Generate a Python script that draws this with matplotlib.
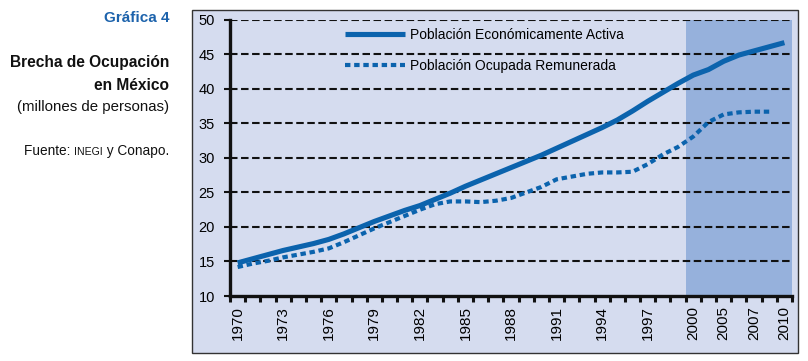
import matplotlib
matplotlib.use("Agg")
import matplotlib.pyplot as plt
from matplotlib.patches import Rectangle
import numpy as np

plt.rcParams['font.family'] = ['Liberation Sans', 'DejaVu Sans']

# --- DATOS (millones de personas) ---
etiquetas_x = ['1970', '', '', '1973', '', '', '1976', '', '', '1979', '', '',
               '1982', '', '', '1985', '', '', '1988', '', '', '1991', '', '',
               '1994', '', '', '1997', '', '', '2000', '', '2005', '', '2007',
               '', '2010']

pea = [14.8, 15.4, 16.0, 16.6, 17.1, 17.6, 18.2, 19.0, 19.9, 20.8, 21.6,
       22.4, 23.1, 24.0, 24.9, 25.9, 26.8, 27.7, 28.6, 29.5, 30.4, 31.4,
       32.4, 33.4, 34.4, 35.5, 36.8, 38.2, 39.5, 40.8, 42.0, 42.8, 44.0,
       44.9, 45.5, 46.1, 46.7]

ocupada_rem = [14.2, 14.7, 15.1, 15.6, 16.0, 16.4, 16.9, 17.8, 18.8, 19.8,
               20.7, 21.6, 22.5, 23.3, 23.7, 23.7, 23.6, 23.8, 24.2, 25.0,
               25.8, 26.9, 27.3, 27.7, 27.9, 27.9, 28.0, 29.1, 30.5, 31.6,
               33.1, 35.2, 36.3, 36.6, 36.7, 36.7]

nombres = ['Población Económicamente Activa', 'Población Ocupada Remunerada']
inicio_sombra = '2000'

azul = '#0b63ad'
fondo = '#d5dcef'
sombra = '#96b1dc'
negro = '#111111'

fig = plt.figure(figsize=(8.08, 3.61), dpi=100)

# marco exterior del gráfico
marco = Rectangle((0.2376, 0.022), 0.750, 0.950, transform=fig.transFigure,
                  facecolor=fondo, edgecolor='#333333', linewidth=1.0, zorder=-5)
fig.patches.append(marco)

ax = fig.add_axes([0.2847, 0.180, 0.6955, 0.765])
ax.set_facecolor('none')

x = np.arange(len(etiquetas_x))
k0 = etiquetas_x.index(inicio_sombra)
ax.axvspan(k0 - 0.5, len(etiquetas_x) - 0.5, color=sombra, lw=0, zorder=0)

# cuadrícula horizontal punteada
for v in range(15, 51, 5):
    ax.axhline(v, color=negro, lw=1.5, linestyle=(0, (3.6, 1.7)), zorder=1)

ax.plot(x, pea, color=azul, lw=3.7, solid_capstyle='butt', zorder=3,
        label=nombres[0])
ax.plot(x[:len(ocupada_rem)], ocupada_rem, color=azul, lw=3.0,
        linestyle=(0, (1.3, 0.9)), dash_capstyle='butt', zorder=3,
        label=nombres[1])

ax.set_xlim(-0.5, len(etiquetas_x) - 0.5)
ax.set_ylim(10, 50)
ax.set_yticks(range(10, 51, 5))
ax.set_xticks(x)
ax.set_xticklabels(etiquetas_x, rotation=90, fontsize=11)
ax.set_xticks(np.arange(-0.5, len(etiquetas_x)), minor=True)
ax.tick_params(axis='x', which='major', length=0, pad=7)
ax.tick_params(axis='x', which='minor', length=4, width=2.2, direction='out',
               color=negro)
ax.tick_params(axis='y', length=4, width=1.5, direction='out', pad=7,
               labelsize=10.5, color=negro)

for lado in ['top', 'right']:
    ax.spines[lado].set_visible(False)
for lado in ['left', 'bottom']:
    ax.spines[lado].set_linewidth(2.4)
    ax.spines[lado].set_color(negro)
    ax.spines[lado].set_zorder(4)

ax.legend(loc='upper left', bbox_to_anchor=(345 / 808, 1 - 28 / 361),
          bbox_transform=fig.transFigure, frameon=False, fontsize=10,
          handlelength=4.3, handletextpad=0.4, labelspacing=1.25,
          borderpad=0, borderaxespad=0)

# textos a la izquierda
xt = 169 / 808
fig.text(xt, 1 - 18 / 361, 'Gráfica 4', ha='right', va='center',
         fontsize=11, fontweight='bold', color='#1d63ac')
fig.text(xt, 1 - 63 / 361, 'Brecha de Ocupación', ha='right', va='center',
         fontsize=11.2, fontweight='bold', color=negro)
fig.text(xt, 1 - 85 / 361, 'en México', ha='right', va='center',
         fontsize=11.2, fontweight='bold', color=negro)
fig.text(xt, 1 - 107 / 361, '(millones de personas)', ha='right', va='center',
         fontsize=10.8, color=negro)

# fuente: "INEGI" en versalitas (más pequeño)
renderer = fig.canvas.get_renderer()
yf = 1 - 155 / 361
t3 = fig.text(xt, yf, ' y Conapo.', ha='right', va='baseline',
              fontsize=9.8, color=negro)
x3 = t3.get_window_extent(renderer).x0 / fig.bbox.width
t2 = fig.text(x3, yf, 'INEGI', ha='right', va='baseline',
              fontsize=7.6, color=negro)
x2 = t2.get_window_extent(renderer).x0 / fig.bbox.width
fig.text(x2, yf, 'Fuente: ', ha='right', va='baseline',
         fontsize=9.8, color=negro)

fig.savefig('out.png', dpi=100)
